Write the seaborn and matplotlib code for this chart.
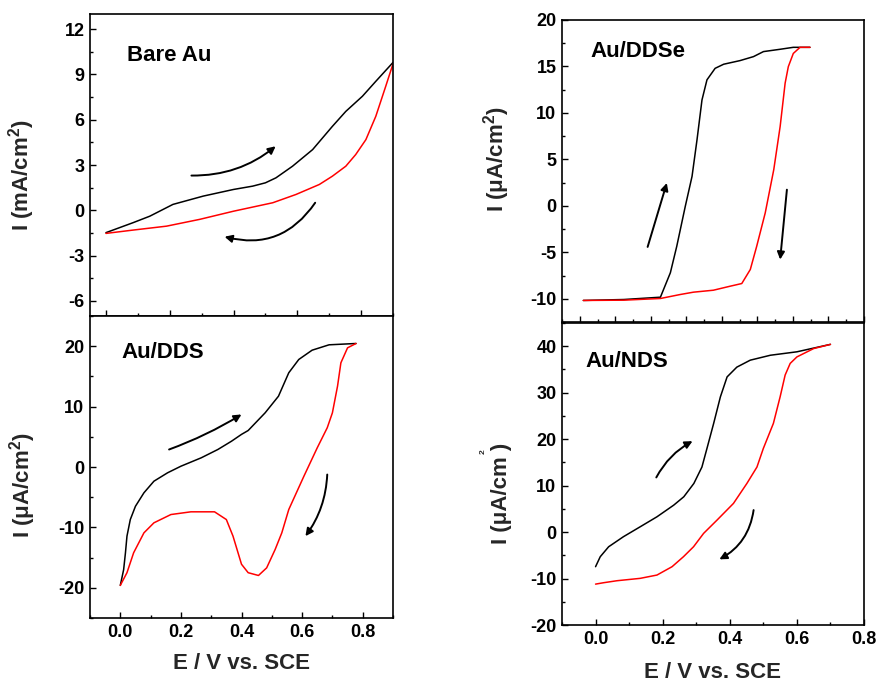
import numpy as np
import pandas as pd
import seaborn as sns
import matplotlib
matplotlib.use("Agg")
import matplotlib.pyplot as plt
from matplotlib.ticker import MultipleLocator, FormatStrFormatter

# ---------------- data ----------------
bare_fwd_E = [0.0, 0.085, 0.1375, 0.21, 0.305, 0.40, 0.46, 0.50, 0.533, 0.585, 0.648, 0.71, 0.752, 0.804, 0.846, 0.9]
bare_fwd_I = [-1.48, -0.82, -0.39, 0.39, 0.94, 1.38, 1.60, 1.82, 2.15, 2.92, 4.02, 5.56, 6.55, 7.55, 8.54, 9.79]
bare_rev_E = [0.9, 0.877, 0.846, 0.815, 0.783, 0.752, 0.71, 0.669, 0.596, 0.523, 0.40, 0.294, 0.19, 0.085, 0.0]
bare_rev_I = [9.7, 8.2, 6.22, 4.68, 3.69, 2.92, 2.26, 1.71, 1.05, 0.50, -0.06, -0.60, -1.05, -1.31, -1.53]

dds_fwd_E = [0.0, 0.011, 0.017, 0.022, 0.033, 0.05, 0.078, 0.111, 0.156, 0.2, 0.267, 0.322, 0.367, 0.40, 0.422,
             0.478, 0.522, 0.556, 0.589, 0.633, 0.689, 0.778]
dds_fwd_I = [-19.6, -17.0, -14.2, -11.45, -8.7, -6.5, -4.27, -2.35, -0.96, 0.13, 1.52, 2.9, 4.27, 5.4, 6.04,
             8.97, 11.72, 15.6, 17.8, 19.34, 20.23, 20.45]
dds_rev_E = [0.778, 0.75, 0.728, 0.717, 0.70, 0.683, 0.65, 0.606, 0.556, 0.533, 0.511, 0.483, 0.456, 0.422, 0.40,
             0.372, 0.35, 0.311, 0.233, 0.167, 0.111, 0.078, 0.044, 0.022, 0.0]
dds_rev_I = [20.45, 19.73, 17.25, 13.4, 8.97, 6.5, 3.18, -1.52, -7.04, -10.9, -13.66, -16.7, -17.96, -17.5, -16.1,
             -11.45, -8.7, -7.42, -7.42, -7.87, -9.24, -10.9, -14.2, -17.5, -19.6]

ddse_fwd_E = [0.01, 0.124, 0.227, 0.255, 0.273, 0.297, 0.316, 0.33, 0.344, 0.358, 0.381, 0.405, 0.451, 0.489, 0.517, 0.564, 0.601, 0.648]
ddse_fwd_I = [-10.18, -10.08, -9.83, -7.2, -4.35, -0.05, 3.17, 7.11, 11.4, 13.56, 14.8, 15.24, 15.63, 16.06, 16.6, 16.85, 17.06, 17.06]
ddse_rev_E = [0.648, 0.62, 0.601, 0.587, 0.578, 0.564, 0.546, 0.522, 0.498, 0.48, 0.456, 0.423, 0.376, 0.32, 0.283, 0.227, 0.124, 0.01]
ddse_rev_I = [17.06, 17.06, 16.4, 14.98, 13.2, 8.54, 3.89, -0.76, -4.35, -6.85, -8.36, -8.65, -9.08, -9.29, -9.54, -9.97, -10.15, -10.18]

nds_fwd_E = [0.0, 0.014, 0.039, 0.083, 0.133, 0.183, 0.233, 0.263, 0.293, 0.317, 0.332, 0.352, 0.372, 0.392, 0.421,
             0.461, 0.521, 0.60, 0.65, 0.70]
nds_fwd_I = [-7.45, -5.3, -3.16, -1.0, 1.14, 3.29, 5.8, 7.6, 10.47, 14.0, 18.0, 23.4, 29.1, 33.4, 35.5,
             37.0, 38.06, 38.8, 39.6, 40.4]
nds_rev_E = [0.70, 0.65, 0.60, 0.58, 0.565, 0.55, 0.53, 0.50, 0.481, 0.451, 0.411, 0.362, 0.322, 0.292,
             0.262, 0.228, 0.183, 0.133, 0.064, 0.024, 0.0]
nds_rev_I = [40.4, 39.5, 37.7, 36.3, 33.8, 29.1, 23.4, 18.0, 14.0, 10.47, 6.17, 2.58, -0.28, -3.16,
             -5.3, -7.45, -9.25, -9.96, -10.47, -10.9, -11.2]

panel_names = ["Bare Au", "Au/DDS", "Au/DDSe", "Au/NDS"]
ylabels = ["I (mA/cm$^2$)", "I (\u03bcA/cm$^2$)", "I (\u03bcA/cm$^2$)", "I (\u03bcA/cm )"]
xlabel_text = "E / V vs. SCE"

# arrows: (start E, start I, end E, end I, curvature)
bare_arrows = [(0.268, 2.30, 0.532, 4.24, 0.18), (0.656, 0.50, 0.372, -1.75, -0.35)]
dds_arrows = [(0.161, 2.9, 0.40, 8.7, 0.05), (0.683, -1.25, 0.611, -11.45, -0.15)]
ddse_arrows = [(0.191, -4.42, 0.245, 2.46, 0.0), (0.583, 1.74, 0.564, -5.78, 0.0)]
nds_arrows = [(0.181, 11.76, 0.289, 19.57, -0.15), (0.471, 4.73, 0.369, -5.87, -0.25)]

# ---------------- style ----------------
sns.set_theme(style="ticks")
plt.rcParams["font.family"] = ["Liberation Sans", "DejaVu Sans"]
plt.rcParams["font.weight"] = "bold"
plt.rcParams["axes.labelweight"] = "bold"
plt.rcParams["axes.unicode_minus"] = False
plt.rcParams["mathtext.fontset"] = "custom"
plt.rcParams["mathtext.rm"] = "Liberation Sans:bold"
plt.rcParams["mathtext.default"] = "rm"

fig = plt.figure(figsize=(8.78, 6.82), dpi=100)
W, H = 878.0, 682.0

def axes_px(l, t, r, b):
    return fig.add_axes([l / W, 1 - b / H, (r - l) / W, (b - t) / H])

ax_bare = axes_px(90, 14, 393, 316)
ax_dds = axes_px(90, 316, 393, 618)
ax_ddse = axes_px(562, 20, 864, 322)
ax_nds = axes_px(562, 323, 864, 625)

def frame(fwdE, fwdI, revE, revI):
    return pd.concat([
        pd.DataFrame({"E": fwdE, "I": fwdI, "scan": "forward"}),
        pd.DataFrame({"E": revE, "I": revI, "scan": "reverse"}),
    ], ignore_index=True)

panels = [
    (ax_bare, frame(bare_fwd_E, bare_fwd_I, bare_rev_E, bare_rev_I), bare_arrows),
    (ax_dds, frame(dds_fwd_E, dds_fwd_I, dds_rev_E, dds_rev_I), dds_arrows),
    (ax_ddse, frame(ddse_fwd_E, ddse_fwd_I, ddse_rev_E, ddse_rev_I), ddse_arrows),
    (ax_nds, frame(nds_fwd_E, nds_fwd_I, nds_rev_E, nds_rev_I), nds_arrows),
]

for ax, df, arrows in panels:
    sns.lineplot(data=df, x="E", y="I", hue="scan", units="scan", estimator=None, sort=False,
                 palette={"forward": "black", "reverse": "#ff0000"}, legend=False, lw=1.1, ax=ax)
    for (x0, y0, x1, y1, rad) in arrows:
        ax.annotate("", xy=(x1, y1), xytext=(x0, y0),
                    arrowprops=dict(arrowstyle="-|>", color="black", lw=1.4, mutation_scale=11,
                                    shrinkA=0, shrinkB=0, connectionstyle=f"arc3,rad={rad}"))
    for s in ax.spines.values():
        s.set_linewidth(1.2)
        s.set_color("black")
    ax.tick_params(which="both", direction="in", top=False, right=False, colors="black",
                   labelsize=13, pad=4)
    ax.tick_params(which="major", length=4, width=1)
    ax.tick_params(which="minor", length=2.5, width=1)
    ax.set_xlabel("")
    ax.set_ylabel("")

# limits and ticks
ax_bare.set_xlim(-0.05, 0.9); ax_bare.set_ylim(-7, 13)
ax_bare.xaxis.set_major_locator(MultipleLocator(0.2)); ax_bare.xaxis.set_minor_locator(MultipleLocator(0.1))
ax_bare.yaxis.set_major_locator(MultipleLocator(3)); ax_bare.yaxis.set_minor_locator(MultipleLocator(1.5))
ax_bare.tick_params(labelbottom=False)

ax_dds.set_xlim(-0.1, 0.9); ax_dds.set_ylim(-25, 25)
ax_dds.xaxis.set_major_locator(MultipleLocator(0.2)); ax_dds.xaxis.set_minor_locator(MultipleLocator(0.1))
ax_dds.yaxis.set_major_locator(MultipleLocator(10)); ax_dds.yaxis.set_minor_locator(MultipleLocator(5))

ax_ddse.set_xlim(-0.05, 0.8); ax_ddse.set_ylim(-12.5, 20)
ax_ddse.xaxis.set_major_locator(MultipleLocator(0.1)); ax_ddse.xaxis.set_minor_locator(MultipleLocator(0.05))
ax_ddse.yaxis.set_major_locator(MultipleLocator(5)); ax_ddse.yaxis.set_minor_locator(MultipleLocator(2.5))
ax_ddse.tick_params(labelbottom=False)

ax_nds.set_xlim(-0.1, 0.8); ax_nds.set_ylim(-20, 45)
ax_nds.xaxis.set_major_locator(MultipleLocator(0.2)); ax_nds.xaxis.set_minor_locator(MultipleLocator(0.1))
ax_nds.yaxis.set_major_locator(MultipleLocator(10)); ax_nds.yaxis.set_minor_locator(MultipleLocator(5))

for ax in [ax_dds, ax_nds]:
    ax.xaxis.set_major_formatter(FormatStrFormatter("%.1f"))
for ax in [ax_bare, ax_dds, ax_ddse, ax_nds]:
    ax.yaxis.set_major_formatter(FormatStrFormatter("%d"))
    for lab in ax.get_xticklabels() + ax.get_yticklabels():
        lab.set_fontweight("bold")

# panel names
name_pos = [(0.121, 0.864), (0.105, 0.88), (0.095, 0.895), (0.076, 0.872)]
for ax, name, (px, py) in zip([ax_bare, ax_dds, ax_ddse, ax_nds], panel_names, name_pos):
    ax.text(px, py, name, transform=ax.transAxes, fontsize=16, fontweight="bold",
            ha="left", va="center", color="black")

# y labels
ylab_pos = [(-0.175, 0.465), (-0.17, 0.44), (-0.167, 0.54), (-0.167, 0.437)]
for ax, lab, (lx, ly) in zip([ax_bare, ax_dds, ax_ddse, ax_nds], ylabels, ylab_pos):
    ax.set_ylabel(lab, fontsize=16, fontweight="bold")
    ax.yaxis.set_label_coords(lx, ly)
fig.text(482.7 / W, 1 - 451.7 / H, "2", fontsize=6, fontweight="bold", rotation=90,
         ha="center", va="center")

# x labels
ax_dds.set_xlabel(xlabel_text, fontsize=16, fontweight="bold")
ax_dds.xaxis.set_label_coords(0.5, -0.116)
ax_nds.set_xlabel(xlabel_text, fontsize=16, fontweight="bold")
ax_nds.xaxis.set_label_coords(0.5, -0.123)

fig.savefig("out.png", dpi=100)
